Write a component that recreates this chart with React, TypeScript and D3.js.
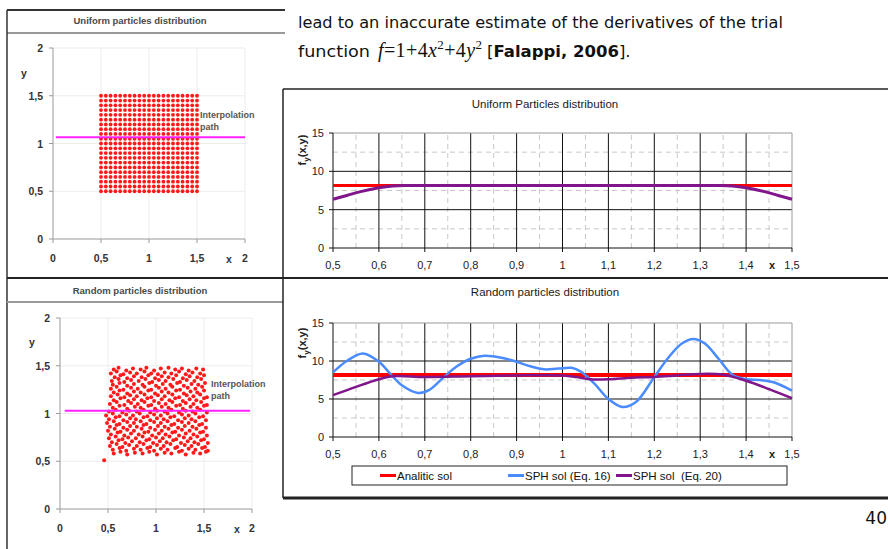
import React from 'react';
import * as d3 from 'd3';

// particle grid used for the uniform distribution (0.5 .. 1.5, step 0.05)
const gridCoords = [0.5, 0.55, 0.6, 0.65, 0.7, 0.75, 0.8, 0.85, 0.9, 0.95, 1.0, 1.05, 1.1, 1.15, 1.2, 1.25, 1.3, 1.35, 1.4, 1.45, 1.5];

// random particles (approximate)
const randomParticles: [number, number][] = [
  [0.56,1.46],[0.61,1.48],[0.69,1.45],[0.76,1.47],[0.84,1.46],[0.9,1.48],[0.98,1.45],[1.05,1.47],[1.13,1.48],[1.2,1.46],[1.27,1.47],[1.34,1.45],[1.42,1.47],[1.49,1.46],
  [0.53,1.42],[0.59,1.44],[0.66,1.41],[0.73,1.43],[0.8,1.42],[0.88,1.44],[0.95,1.42],[1.02,1.41],[1.09,1.43],[1.16,1.42],[1.24,1.44],[1.31,1.41],[1.38,1.43],[1.46,1.42],
  [0.57,1.38],[0.63,1.4],[0.7,1.37],[0.77,1.39],[0.85,1.38],[0.92,1.4],[0.99,1.37],[1.06,1.39],[1.13,1.38],[1.21,1.4],[1.28,1.37],[1.35,1.39],[1.43,1.38],[1.5,1.4],
  [0.54,1.34],[0.61,1.36],[0.67,1.33],[0.74,1.35],[0.82,1.34],[0.89,1.36],[0.96,1.33],[1.03,1.35],[1.1,1.34],[1.18,1.36],[1.25,1.33],[1.32,1.35],[1.4,1.34],[1.47,1.36],
  [0.55,1.3],[0.62,1.32],[0.7,1.29],[0.77,1.31],[0.86,1.3],[0.93,1.32],[1.0,1.29],[1.07,1.31],[1.15,1.3],[1.22,1.32],[1.29,1.29],[1.37,1.31],[1.44,1.3],[1.51,1.32],
  [0.53,1.26],[0.59,1.28],[0.66,1.25],[0.74,1.27],[0.81,1.26],[0.88,1.28],[0.95,1.25],[1.03,1.27],[1.1,1.26],[1.17,1.28],[1.25,1.25],[1.33,1.27],[1.41,1.26],[1.48,1.28],
  [0.56,1.22],[0.62,1.24],[0.7,1.21],[0.77,1.23],[0.84,1.22],[0.92,1.24],[0.99,1.21],[1.06,1.23],[1.13,1.22],[1.21,1.24],[1.29,1.21],[1.36,1.23],[1.43,1.22],[1.5,1.24],
  [0.53,1.18],[0.6,1.2],[0.67,1.17],[0.73,1.19],[0.8,1.18],[0.88,1.2],[0.95,1.17],[1.02,1.19],[1.09,1.18],[1.17,1.2],[1.24,1.17],[1.32,1.19],[1.39,1.18],[1.46,1.2],[1.53,1.17],
  [0.56,1.14],[0.63,1.16],[0.71,1.13],[0.77,1.15],[0.85,1.14],[0.91,1.16],[0.98,1.13],[1.06,1.15],[1.14,1.14],[1.2,1.16],[1.28,1.13],[1.35,1.15],[1.42,1.14],[1.5,1.16],
  [0.52,1.1],[0.59,1.12],[0.67,1.09],[0.74,1.11],[0.81,1.1],[0.88,1.12],[0.95,1.09],[1.03,1.11],[1.1,1.1],[1.17,1.12],[1.25,1.09],[1.31,1.11],[1.39,1.1],[1.47,1.12],[1.53,1.09],
  [0.55,1.06],[0.62,1.08],[0.7,1.05],[0.78,1.07],[0.84,1.06],[0.92,1.08],[0.99,1.05],[1.06,1.07],[1.13,1.06],[1.21,1.08],[1.28,1.05],[1.36,1.07],[1.43,1.06],[1.5,1.08],
  [0.51,1.02],[0.58,1.04],[0.65,1.01],[0.72,1.03],[0.8,1.02],[0.87,1.04],[0.94,1.01],[1.01,1.03],[1.09,1.02],[1.16,1.04],[1.24,1.01],[1.31,1.03],[1.38,1.02],[1.46,1.04],[1.53,1.01],
  [0.48,0.98],[0.55,1.0],[0.62,0.97],[0.69,0.99],[0.76,0.98],[0.83,1.0],[0.91,0.97],[0.98,0.99],[1.05,0.98],[1.12,1.0],[1.19,0.97],[1.27,0.99],[1.34,0.98],[1.41,1.0],[1.49,0.97],
  [0.51,0.94],[0.58,0.96],[0.66,0.93],[0.73,0.95],[0.79,0.94],[0.87,0.96],[0.94,0.93],[1.01,0.95],[1.08,0.94],[1.15,0.96],[1.23,0.93],[1.3,0.95],[1.37,0.94],[1.45,0.96],[1.52,0.93],
  [0.49,0.9],[0.56,0.92],[0.62,0.89],[0.7,0.91],[0.77,0.9],[0.84,0.92],[0.9,0.89],[0.98,0.91],[1.05,0.9],[1.12,0.92],[1.19,0.89],[1.27,0.91],[1.34,0.9],[1.41,0.92],[1.48,0.89],
  [0.52,0.86],[0.59,0.88],[0.66,0.85],[0.73,0.87],[0.8,0.86],[0.87,0.88],[0.94,0.85],[1.02,0.87],[1.09,0.86],[1.16,0.88],[1.23,0.85],[1.3,0.87],[1.38,0.86],[1.45,0.88],[1.52,0.85],
  [0.5,0.82],[0.57,0.84],[0.63,0.81],[0.7,0.83],[0.77,0.82],[0.85,0.84],[0.92,0.81],[0.99,0.83],[1.06,0.82],[1.13,0.84],[1.2,0.81],[1.27,0.83],[1.35,0.82],[1.42,0.84],[1.49,0.81],
  [0.53,0.78],[0.6,0.8],[0.67,0.77],[0.74,0.79],[0.82,0.78],[0.88,0.8],[0.96,0.77],[1.03,0.79],[1.1,0.78],[1.17,0.8],[1.24,0.77],[1.31,0.79],[1.39,0.78],[1.46,0.8],[1.53,0.77],
  [0.51,0.74],[0.58,0.76],[0.65,0.73],[0.71,0.75],[0.79,0.74],[0.86,0.76],[0.93,0.73],[1.0,0.75],[1.07,0.74],[1.14,0.76],[1.21,0.73],[1.29,0.75],[1.36,0.74],[1.43,0.76],[1.5,0.73],
  [0.54,0.7],[0.61,0.72],[0.68,0.69],[0.75,0.71],[0.83,0.7],[0.9,0.72],[0.97,0.69],[1.04,0.71],[1.11,0.7],[1.18,0.72],[1.26,0.69],[1.33,0.71],[1.4,0.7],[1.47,0.72],[1.54,0.69],
  [0.52,0.66],[0.59,0.68],[0.65,0.65],[0.72,0.67],[0.8,0.66],[0.87,0.68],[0.94,0.65],[1.01,0.67],[1.08,0.66],[1.15,0.68],[1.22,0.65],[1.3,0.67],[1.37,0.66],[1.44,0.68],[1.51,0.65],
  [0.55,0.62],[0.62,0.64],[0.69,0.61],[0.77,0.63],[0.84,0.62],[0.91,0.64],[0.98,0.61],[1.05,0.63],[1.12,0.62],[1.2,0.64],[1.27,0.61],[1.34,0.63],[1.41,0.62],[1.48,0.64],[1.54,0.61],
  [0.56,0.58],[0.63,0.6],[0.7,0.57],[0.78,0.59],[0.86,0.58],[0.93,0.6],[1.01,0.57],[1.09,0.59],[1.16,0.58],[1.24,0.6],[1.31,0.57],[1.39,0.59],[1.46,0.58],[1.52,0.6],
  [0.46,0.51],
];

const leftTicks = [0, 0.5, 1, 1.5, 2];

// right-hand charts
const xMajor = [0.5, 0.6, 0.7, 0.8, 0.9, 1.0, 1.1, 1.2, 1.3, 1.4, 1.5];
const xMinor = [0.55, 0.65, 0.75, 0.85, 0.95, 1.05, 1.15, 1.25, 1.35, 1.45];
const yMajor = [0, 5, 10, 15];
const yMinor = [2.5, 7.5, 12.5];

const analiticValue = 8.15;

const uniformX = [0.5, 0.53, 0.56, 0.6, 0.63, 0.66, 0.7, 1.0, 1.3, 1.34, 1.37, 1.4, 1.44, 1.47, 1.5];
const uniformSph20 = [6.35, 6.85, 7.35, 7.85, 8.08, 8.15, 8.15, 8.15, 8.15, 8.15, 8.08, 7.85, 7.35, 6.85, 6.35];

const randomX16 = [0.5, 0.53, 0.565, 0.6, 0.625, 0.65, 0.685, 0.71, 0.74, 0.77, 0.8, 0.83, 0.87, 0.9, 0.93, 0.96, 0.99, 1.02, 1.04, 1.07, 1.1, 1.13, 1.16, 1.2, 1.23, 1.26, 1.285, 1.31, 1.34, 1.37, 1.4, 1.43, 1.46, 1.5];
const randomSph16 = [8.5, 10.0, 11.0, 9.9, 8.3, 6.8, 5.8, 6.2, 7.8, 9.3, 10.3, 10.7, 10.4, 9.9, 9.3, 8.9, 9.0, 9.1, 8.6, 7.0, 5.0, 3.95, 4.6, 7.9, 10.4, 12.3, 12.9, 12.3, 10.3, 8.2, 7.6, 7.5, 7.2, 6.1];
const randomX20 = [0.5, 0.55, 0.6, 0.63, 0.7, 0.8, 0.9, 1.0, 1.03, 1.06, 1.1, 1.15, 1.2, 1.25, 1.3, 1.35, 1.4, 1.45, 1.5];
const randomSph20 = [5.5, 6.6, 7.6, 8.0, 7.9, 8.0, 8.1, 8.1, 7.9, 7.6, 7.6, 7.8, 7.9, 8.1, 8.3, 8.2, 7.4, 6.3, 5.1];

const fmt = (v: number) => String(+v.toFixed(2)).replace('.', ',');
const chartFont = 'Liberation Sans, Arial, sans-serif';

type LeftProps = {
  title: string;
  titleY: number;
  xRange: [number, number];
  yRange: [number, number];
  points: [number, number][];
  r: number;
  pathY: number;
  pathFrom: number;
  pathTo: number;
  yTickRight: number;
  xLabelBase: number;
  yName: [number, number];
  xName: number;
  interp: [number, number];
};

function LeftChart(p: LeftProps) {
  const x = d3.scaleLinear().domain([0, 2]).range(p.xRange);
  const y = d3.scaleLinear().domain([0, 2]).range(p.yRange);
  return (
    <g fontFamily={chartFont}>
      <text x={140} y={p.titleY} textAnchor="middle" fontSize={9.5} fontWeight="bold" fill="#4a4a4a">{p.title}</text>
      {leftTicks.slice(1).map((t) => (
        <line key={'gx' + t} x1={x(t)} x2={x(t)} y1={y(0)} y2={y(2)} stroke="#ececec" />
      ))}
      {leftTicks.slice(1).map((t) => (
        <line key={'gy' + t} x1={x(0)} x2={x(2)} y1={y(t)} y2={y(t)} stroke="#ececec" />
      ))}
      <line x1={x(0)} x2={x(0)} y1={y(0)} y2={y(2)} stroke="#999" />
      <line x1={x(0)} x2={x(2)} y1={y(0)} y2={y(0)} stroke="#999" />
      {leftTicks.map((t) => (
        <g key={'t' + t}>
          <line x1={x(0) - 4} x2={x(0)} y1={y(t)} y2={y(t)} stroke="#999" />
          <line x1={x(t)} x2={x(t)} y1={y(0)} y2={y(0) + 4} stroke="#999" />
          <text x={p.yTickRight} y={y(t) + 4} textAnchor="end" fontSize={10.5} fontWeight="bold" fill="#333">{fmt(t)}</text>
          <text x={x(t)} y={p.xLabelBase} textAnchor="middle" fontSize={10.5} fontWeight="bold" fill="#333">{fmt(t)}</text>
        </g>
      ))}
      <text x={p.yName[0]} y={p.yName[1]} fontSize={10.5} fontWeight="bold" fill="#333" textAnchor="middle">y</text>
      <text x={p.xName} y={p.xLabelBase + 1} fontSize={10.5} fontWeight="bold" fill="#333" textAnchor="middle">x</text>
      {p.points.map((d, i) => (
        <circle key={i} cx={x(d[0])} cy={y(d[1])} r={p.r} fill="#ff1a1a" />
      ))}
      <line x1={x(p.pathFrom)} x2={x(p.pathTo)} y1={y(p.pathY)} y2={y(p.pathY)} stroke="#ff22ff" strokeWidth={2} />
      <text x={p.interp[0]} y={p.interp[1]} fontSize={9} fontWeight="bold" fill="#555">Interpolation</text>
      <text x={p.interp[0]} y={p.interp[1] + 12} fontSize={9} fontWeight="bold" fill="#555">path</text>
    </g>
  );
}

type Series = { xs: number[]; ys: number[]; color: string; width: number };

function RightChart({ title, titleY, yRange, series, labelBase, fLabelY }: {
  title: string; titleY: number; yRange: [number, number]; series: Series[]; labelBase: number; fLabelY: number;
}) {
  const x = d3.scaleLinear().domain([0.5, 1.5]).range([333, 792]);
  const y = d3.scaleLinear().domain([0, 15]).range(yRange);
  const line = d3.line<[number, number]>()
    .x((d) => x(d[0]))
    .y((d) => y(d[1]))
    .curve(d3.curveCatmullRom.alpha(0.5));
  return (
    <g fontFamily={chartFont}>
      <text x={545} y={titleY} textAnchor="middle" fontSize={11.5} fill="#1a1a1a">{title}</text>
      {xMinor.map((t) => (
        <line key={'mx' + t} x1={x(t)} x2={x(t)} y1={y(0)} y2={y(15)} stroke="#c8c8c8" strokeDasharray="5,4" />
      ))}
      {yMinor.map((t) => (
        <line key={'my' + t} x1={x(0.5)} x2={x(1.5)} y1={y(t)} y2={y(t)} stroke="#c8c8c8" strokeDasharray="5,4" />
      ))}
      {xMajor.slice(1, -1).map((t) => (
        <line key={'Mx' + t} x1={x(t)} x2={x(t)} y1={y(0)} y2={y(15)} stroke="#111" />
      ))}
      {yMajor.slice(1, -1).map((t) => (
        <line key={'My' + t} x1={x(0.5)} x2={x(1.5)} y1={y(t)} y2={y(t)} stroke="#111" />
      ))}
      <line x1={x(0.5)} x2={x(1.5)} y1={y(15)} y2={y(15)} stroke="#999" />
      <line x1={x(1.5)} x2={x(1.5)} y1={y(0)} y2={y(15)} stroke="#999" />
      <line x1={x(0.5)} x2={x(0.5)} y1={y(0)} y2={y(15)} stroke="#111" />
      <line x1={x(0.5)} x2={x(1.5)} y1={y(0)} y2={y(0)} stroke="#111" />
      {yMajor.map((t) => (
        <g key={'yt' + t}>
          <line x1={x(0.5) - 4} x2={x(0.5)} y1={y(t)} y2={y(t)} stroke="#111" />
          <text x={324} y={y(t) + 4} textAnchor="end" fontSize={11} fill="#222">{t}</text>
        </g>
      ))}
      {xMajor.map((t) => (
        <g key={'xt' + t}>
          <line x1={x(t)} x2={x(t)} y1={y(0)} y2={y(0) + 4} stroke="#111" />
          <text x={x(t)} y={labelBase} textAnchor="middle" fontSize={11} fill="#222">{fmt(t)}</text>
        </g>
      ))}
      <text x={772} y={labelBase} textAnchor="middle" fontSize={11} fontWeight="bold" fill="#222">x</text>
      <text transform={`translate(306,${fLabelY}) rotate(-90)`} textAnchor="middle" fontSize={11} fontWeight="bold" fill="#222">
        f<tspan fontSize={8} dy={3}>y</tspan><tspan dy={-3}>(x,y)</tspan>
      </text>
      <line x1={x(0.5)} x2={x(1.5)} y1={y(analiticValue)} y2={y(analiticValue)} stroke="#ff0000" strokeWidth={series.length > 1 ? 4 : 3} />
      {series.map((s, i) => (
        <path key={i} d={line(s.xs.map((v, j) => [v, s.ys[j]] as [number, number])) || ''} fill="none" stroke={s.color} strokeWidth={s.width} />
      ))}
    </g>
  );
}

export default function App() {
  const uniformPoints: [number, number][] = [];
  gridCoords.forEach((gx) => gridCoords.forEach((gy) => uniformPoints.push([gx, gy])));
  const purple = '#80158c';
  const blue = '#4a8cff';
  return (
    <svg width={888} height={549} viewBox="0 0 888 549" style={{ position: 'absolute', left: 0, top: 0, background: '#fff' }}>
      {/* page text */}
      <g fontFamily="DejaVu Sans, Verdana, sans-serif" fontSize={16.5} fill="#111">
        <text x={298} y={28} textLength={485} lengthAdjust="spacingAndGlyphs">lead to an inaccurate estimate of the derivatives of the trial</text>
        <text x={298} y={57} textLength={72} lengthAdjust="spacingAndGlyphs">function</text>
        <text x={378} y={57} fontFamily="Liberation Serif, Times New Roman, serif" fontSize={20} textLength={104} lengthAdjust="spacing">
          <tspan fontStyle="italic">f</tspan>=1+4<tspan fontStyle="italic">x</tspan><tspan fontSize={13} dy={-8}>2</tspan><tspan dy={8}>+4</tspan><tspan fontStyle="italic">y</tspan><tspan fontSize={13} dy={-8}>2</tspan>
        </text>
        <text x={487} y={57}>[<tspan fontWeight="bold">Falappi, 2006</tspan>].</text>
        <text x={887} y={524} fontSize={17} textAnchor="end">40</text>
      </g>

      {/* left panel frames */}
      <line x1={7} x2={285} y1={10} y2={10} stroke="#333" strokeWidth={2} />
      <line x1={7} x2={285} y1={33} y2={33} stroke="#999" strokeWidth={2} />
      <line x1={7} x2={7} y1={10} y2={549} stroke="#333" strokeWidth={1.5} />
      <line x1={7} x2={888} y1={278} y2={278} stroke="#222" strokeWidth={2} />
      <line x1={7} x2={283} y1={302} y2={302} stroke="#999" strokeWidth={2} />

      <LeftChart
        title="Uniform particles distribution" titleY={24}
        xRange={[53, 245]} yRange={[239, 48]} points={uniformPoints} r={1.9}
        pathY={1.065} pathFrom={0.03} pathTo={2.0}
        yTickRight={43} xLabelBase={262} yName={[24, 77]} xName={229} interp={[200, 118]}
      />
      <LeftChart
        title="Random particles distribution" titleY={294}
        xRange={[60, 252]} yRange={[509, 318]} points={randomParticles} r={2}
        pathY={1.03} pathFrom={0.05} pathTo={1.98}
        yTickRight={50} xLabelBase={532} yName={[32, 346]} xName={237} interp={[211, 387]}
      />

      {/* right panel frame */}
      <rect x={283} y={89} width={610} height={409} fill="#fff" />
      <line x1={283} x2={888} y1={89} y2={89} stroke="#222" strokeWidth={1.5} />
      <line x1={283} x2={283} y1={89} y2={498} stroke="#222" strokeWidth={1.5} />
      <line x1={283} x2={888} y1={278} y2={278} stroke="#222" strokeWidth={2} />
      <line x1={283} x2={888} y1={498} y2={498} stroke="#222" strokeWidth={3} />

      <RightChart
        title="Uniform Particles distribution" titleY={108} yRange={[248, 133]} labelBase={269} fLabelY={150}
        series={[{ xs: uniformX, ys: uniformSph20, color: purple, width: 3 }]}
      />
      <RightChart
        title="Random particles distribution" titleY={296} yRange={[437, 323]} labelBase={458} fLabelY={343}
        series={[
          { xs: randomX16, ys: randomSph16, color: blue, width: 2.5 },
          { xs: randomX20, ys: randomSph20, color: purple, width: 2.5 },
        ]}
      />

      {/* legend */}
      <g fontFamily={chartFont} fontSize={11.5} fill="#111">
        <rect x={352} y={466} width={435} height={19} fill="#fff" stroke="#222" />
        <line x1={380} x2={396} y1={475.5} y2={475.5} stroke="#ff0000" strokeWidth={3} />
        <text x={397} y={480}>Analitic sol</text>
        <line x1={508} x2={524} y1={475.5} y2={475.5} stroke={blue} strokeWidth={3} />
        <text x={525} y={480}>SPH sol (Eq. 16)</text>
        <line x1={616} x2={632} y1={475.5} y2={475.5} stroke={purple} strokeWidth={3} />
        <text x={633} y={480} style={{ whiteSpace: 'pre' }}>SPH sol  (Eq. 20)</text>
      </g>
    </svg>
  );
}
